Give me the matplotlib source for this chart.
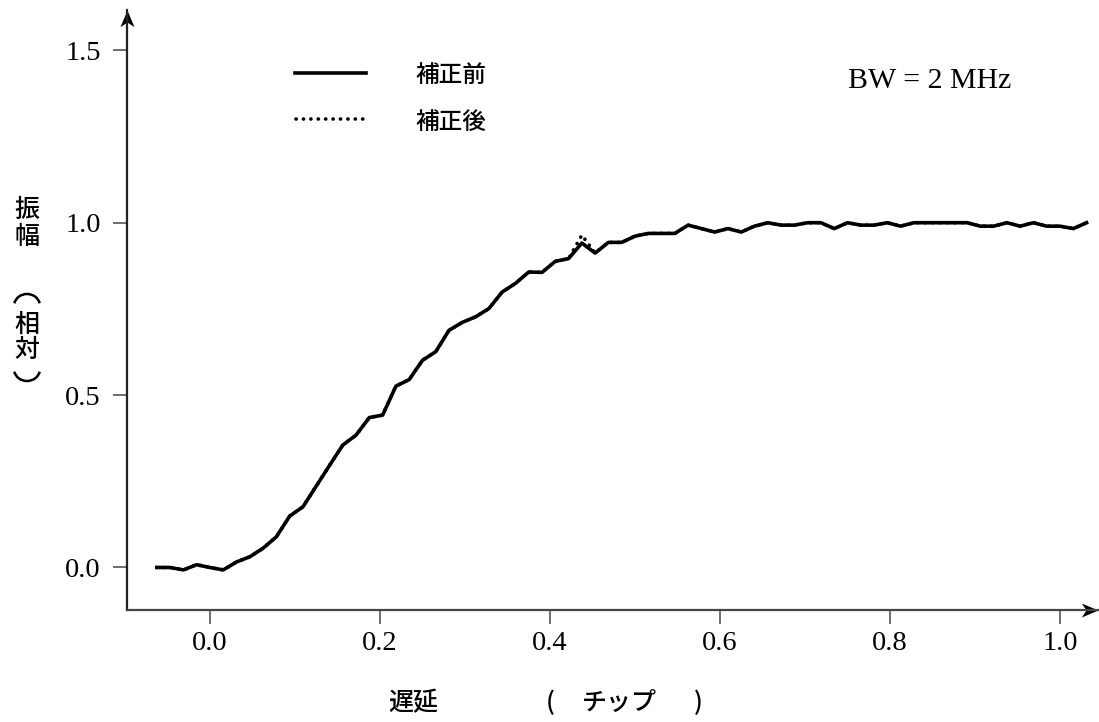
import numpy as np
import matplotlib
matplotlib.use("Agg")
import matplotlib.pyplot as plt
from matplotlib.path import Path
from matplotlib.patches import Arc

plt.rcParams['font.family'] = ['Liberation Serif', 'DejaVu Serif']
CJK = ['Noto Sans CJK JP', 'DejaVu Sans']

# delay in chips, sampled every 1/64 chip
delay = np.arange(-4, 67) / 64.0

amp_before = [
    0.000, 0.000, -0.007, 0.008, 0.000, -0.007, 0.016, 0.031, 0.056, 0.089,
    0.149, 0.176, 0.236, 0.296, 0.355, 0.384, 0.435, 0.442, 0.526, 0.545,
    0.601, 0.626, 0.688, 0.711, 0.727, 0.751, 0.799, 0.824, 0.857, 0.856,
    0.888, 0.896, 0.941, 0.912, 0.943, 0.943, 0.961, 0.969, 0.969, 0.969,
    0.993, 0.983, 0.973, 0.983, 0.973, 0.990, 1.000, 0.993, 0.993, 1.000,
    1.000, 0.983, 1.000, 0.993, 0.993, 1.000, 0.990, 1.000, 1.000, 1.000,
    1.000, 1.000, 0.990, 0.990, 1.000, 0.990, 1.000, 0.990, 0.990, 0.983, 1.000,
]
amp_after = list(amp_before)
amp_after[32] = 0.964

xticks = [0.0, 0.2, 0.4, 0.6, 0.8, 1.0]
yticks = [0.0, 0.5, 1.0, 1.5]

DOTS = (0, (0.05, 2.0))

W, H = 1099, 722
fig = plt.figure(figsize=(W / 100, H / 100), dpi=100)
ax = fig.add_axes([127 / W, 1 - 610 / H, (1098 - 127) / W, (610 - 10) / H])

ax.plot(delay, amp_before, color='black', lw=2.6, solid_joinstyle='round')
ax.plot(delay, amp_after, color='black', lw=2.6, linestyle=DOTS,
        dash_capstyle='round')

ax.set_xlim(-0.0976, 1.0447)
ax.set_ylim(-0.1233, 1.617)

for side in ('top', 'right'):
    ax.spines[side].set_visible(False)
ax.spines['left'].set_color('#222222')
ax.spines['bottom'].set_color('#444444')
for side in ('left', 'bottom'):
    ax.spines[side].set_linewidth(1.6)

ax.set_xticks(xticks)
ax.set_xticklabels([f"{v:.1f}" for v in xticks])
ax.set_yticks(yticks)
ax.set_yticklabels([f"{v:.1f}" for v in yticks])
ax.tick_params(axis='both', direction='out', length=10, width=1.2,
               color='#555555', labelsize=20.5)
ax.tick_params(axis='x', pad=5)
ax.tick_params(axis='y', pad=9)

# arrowheads at the ends of the axes
head_r = Path([(0, 0), (-1, 0.42), (-0.72, 0), (-1, -0.42), (0, 0)],
              [Path.MOVETO, Path.LINETO, Path.LINETO, Path.LINETO, Path.CLOSEPOLY])
head_u = Path([(0, 0), (0.42, -1), (0, -0.72), (-0.42, -1), (0, 0)],
              [Path.MOVETO, Path.LINETO, Path.LINETO, Path.LINETO, Path.CLOSEPOLY])
ax.plot([1], [0], marker=head_r, ms=24, color='black', mew=0,
        transform=ax.transAxes, clip_on=False)
ax.plot([0], [1], marker=head_u, ms=24, color='black', mew=0,
        transform=ax.transAxes, clip_on=False)


def ftext(px, py, s, **kw):
    fig.text(px / W, 1 - py / H, s, ha='center', va='center', **kw)


def vbracket(px, py, opening):
    """Bracket for vertical text: an arch opening downward or upward."""
    if opening:
        t1, t2 = 12, 168
    else:
        t1, t2 = 192, 348
    fig.add_artist(Arc((px / 100, (H - py) / 100), 0.26, 0.24,
                       theta1=t1, theta2=t2, lw=1.8, color='black',
                       transform=fig.dpi_scale_trans))


# legend
fig.add_artist(plt.Line2D([295 / W, 366 / W], [1 - 73 / H, 1 - 73 / H],
                          color='black', lw=2.6))
fig.add_artist(plt.Line2D([296 / W, 364 / W], [1 - 119 / H, 1 - 119 / H],
                          color='black', lw=2.6, linestyle=DOTS,
                          dash_capstyle='round'))
ftext(451, 75, '補正前', family=CJK, fontsize=17, weight='medium')
ftext(451, 122, '補正後', family=CJK, fontsize=17, weight='medium')
ftext(930, 81, 'BW = 2 MHz', fontsize=21.5)

# y-axis label, written vertically
ftext(27, 210, '振', family=CJK, fontsize=18, weight='medium')
ftext(27, 237, '幅', family=CJK, fontsize=18, weight='medium')
vbracket(27, 306, True)
ftext(27, 325, '相', family=CJK, fontsize=18, weight='medium')
ftext(27, 350, '対', family=CJK, fontsize=18, weight='medium')
vbracket(27, 369, False)

# x-axis label
ftext(413, 703, '遅延', family=CJK, fontsize=18, weight='medium')
ftext(550, 703, '(', family=CJK, fontsize=18, weight='medium')
ftext(619, 703, 'チップ', family=CJK, fontsize=18, weight='medium')
ftext(698, 703, ')', family=CJK, fontsize=18, weight='medium')

fig.savefig('out.png', dpi=100)
